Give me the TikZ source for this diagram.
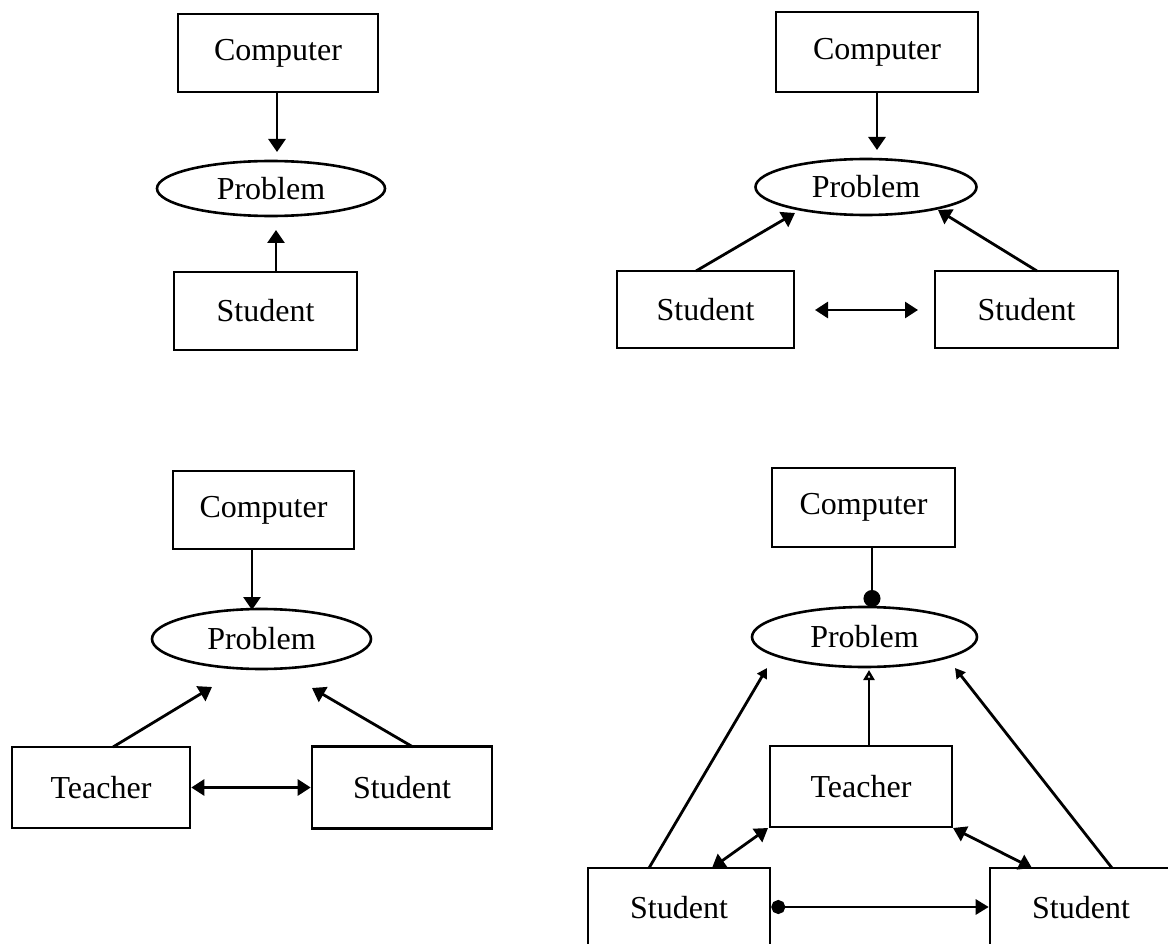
\documentclass[tikz,border=0pt]{standalone}
\usepackage{fontspec}
\setmainfont{Liberation Serif}
\usetikzlibrary{shapes.geometric,arrows.meta}
\begin{document}
\begin{tikzpicture}[x=1pt,y=-1pt,
  lbl/.style={font=\fontsize{32}{38}\selectfont},
  box/.style={lbl,draw,line width=2.6pt,rectangle,inner sep=0pt},
  prob/.style={lbl,draw,line width=2.6pt,ellipse,inner sep=0pt},
  con/.style={line width=2.8pt},
  arr/.style={con,-{Triangle[length=13pt,width=17pt]}},
  dbl/.style={con,{Triangle[length=13pt,width=16pt]}-{Triangle[length=13pt,width=16pt]}},
  sarr/.style={con,-{Triangle[length=10pt,width=11pt]}},
  oarr/.style={con,-{Triangle[open,length=10pt,width=11pt]}},
  dotarr/.style={con,{Circle[length=14pt]}-{Triangle[length=13pt,width=15pt]}},
  dotend/.style={con,-{Circle[length=17pt]}}]
\useasboundingbox (0,0) rectangle (1168,944);
\fill[white] (0,0) rectangle (1168,944);
\clip (0,0) rectangle (1168,944);

% ---------- top left ----------
\node[box,minimum width=200pt,minimum height=78pt] (c1) at (278,53) {Computer};
\node[prob,minimum width=228pt,minimum height=55pt] (p1) at (271,188.5) {Problem};
\node[box,minimum width=183pt,minimum height=78pt] (s1) at (265.5,311) {Student};
\coordinate (t1a) at (277,152);
\coordinate (t1b) at (276,230);
\draw[arr] (c1.south -| t1a) -- (t1a);
\draw[arr] (s1.north -| t1b) -- (t1b);

% ---------- top right ----------
\node[box,minimum width=202pt,minimum height=80pt] (c2) at (877,52) {Computer};
\node[prob,minimum width=221pt,minimum height=56pt] (p2) at (866,187) {Problem};
\node[box,minimum width=177pt,minimum height=77pt] (s2a) at (705.5,309.5) {Student};
\node[box,minimum width=183pt,minimum height=77pt] (s2b) at (1026.5,309.5) {Student};
\coordinate (t2a) at (877,150);
\coordinate (t2b) at (795,213);
\coordinate (t2c) at (938,210);
\coordinate (f2b) at (696,271);
\coordinate (f2c) at (1037,271);
\coordinate (h2a) at (815,310);
\coordinate (h2b) at (918,310);
\draw[arr] (c2.south -| t2a) -- (t2a);
\draw[arr] (f2b) -- (t2b);
\draw[arr] (f2c) -- (t2c);
\draw[dbl] (h2a) -- (h2b);

% ---------- bottom left ----------
\node[box,minimum width=181pt,minimum height=78pt] (c3) at (263.5,510) {Computer};
\node[prob,minimum width=219pt,minimum height=60pt] (p3) at (261.5,639) {Problem};
\node[box,minimum width=178pt,minimum height=81pt] (t3) at (101,787.5) {Teacher};
\node[box,minimum width=180pt,minimum height=82pt] (s3) at (402,787.5) {Student};
\coordinate (t3a) at (252,610);
\coordinate (t3b) at (212,687);
\coordinate (t3c) at (312,688);
\coordinate (f3b) at (113,747);
\coordinate (f3c) at (413,747);
\draw[arr] (c3.south -| t3a) -- (t3a);
\draw[arr] (f3b) -- (t3b);
\draw[arr] (f3c) -- (t3c);
\draw[dbl] (t3.east) -- (s3.west);

% ---------- bottom right ----------
\node[box,minimum width=183pt,minimum height=79pt] (c4) at (863.5,507.5) {Computer};
\node[prob,minimum width=225pt,minimum height=60pt] (p4) at (864.5,637) {Problem};
\node[box,minimum width=182pt,minimum height=81pt] (t4) at (861,786.5) {Teacher};
\node[box,minimum width=182pt,minimum height=80pt] (s4a) at (679,908) {Student};
\node[box,minimum width=182pt,minimum height=80pt] (s4b) at (1081,908) {Student};
\coordinate (d4) at (872,607);
\coordinate (t4l) at (767,668);
\coordinate (t4m) at (869,670);
\coordinate (t4r) at (955,668);
\coordinate (f4l) at (649,868);
\coordinate (f4r) at (1112,868);
\coordinate (a4l) at (768,828);
\coordinate (b4l) at (712,868);
\coordinate (a4r) at (953,828);
\coordinate (b4r) at (1032,868);
\draw[dotend] (c4.south -| d4) -- (d4);
\draw[sarr] (f4l) -- (t4l);
\draw[oarr] (t4.north -| t4m) -- (t4m);
\draw[sarr] (f4r) -- (t4r);
\draw[dbl] (a4l) -- (b4l);
\draw[dbl] (a4r) -- (b4r);
\draw[dotarr] (s4a.east |- 0,907) -- (s4b.west |- 0,907);
\end{tikzpicture}
\end{document}
